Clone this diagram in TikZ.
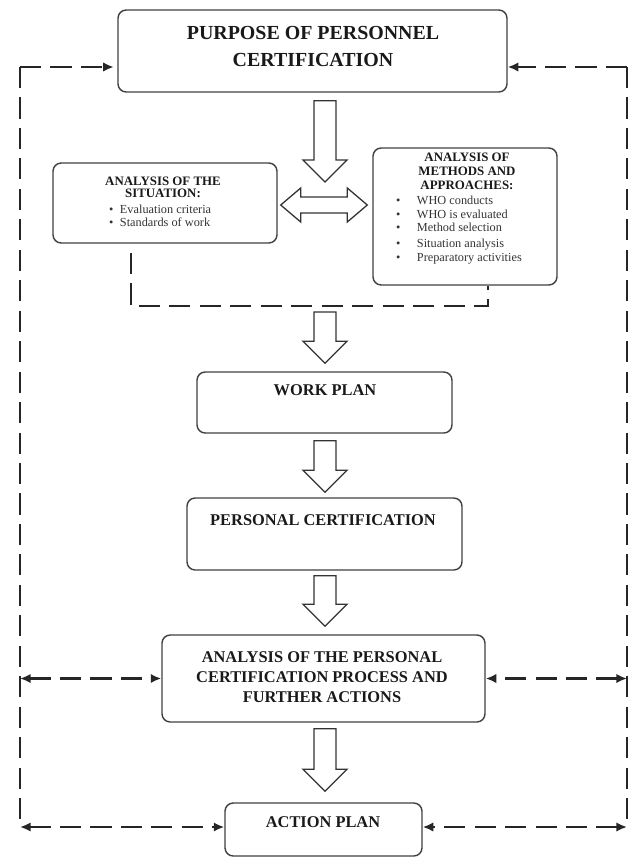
\documentclass[tikz,border=0pt]{standalone}
\usepackage{fontspec}
\setmainfont{Liberation Serif}
\usetikzlibrary{fit,calc,arrows.meta}
\tikzset{
  box/.style={draw=black!75, line width=1.2pt, rounded corners=7pt, inner sep=0pt},
  head/.style={font=\fontsize{14}{17}\selectfont\bfseries, text=black!90, align=center, inner sep=0pt},
  smallhead/.style={font=\fontsize{11}{10}\selectfont\bfseries, text=black!90, align=center, inner sep=0pt},
  items/.style={font=\fontsize{10.5}{11.5}\selectfont, text=black!80, align=left, inner sep=0pt, anchor=west},
  blockarrow/.style={draw=black!80, line width=1.1pt, fill=white, line join=miter},
  loopline/.style={line width=1.8pt, dash pattern=on 18pt off 8pt, black!85},
  loopto/.style={-{Latex[length=9pt,width=8pt]}},
  loopboth/.style={{Latex[length=9pt,width=8pt]}-{Latex[length=9pt,width=8pt]}},
}
\newcommand{\blockdown}[2]{\draw[blockarrow] ($(#1)+(-11,0)$) -- ($(#2)+(-11,-22)$) -- ($(#2)+(-22,-22)$) -- (#2) -- ($(#2)+(22,-22)$) -- ($(#2)+(11,-22)$) -- ($(#1)+(11,0)$) -- cycle;}

\begin{document}
\begin{tikzpicture}[x=0.03cm, y=-0.03cm]
\useasboundingbox (0,0) rectangle (631,858);

% boxes
\node[box, fit={(118,10) (507,92)}] (purpose) {};
\node[box, fit={(53,163) (277,243)}] (sit) {};
\node[box, fit={(373,148) (557,285)}] (meth) {};
\node[box, fit={(197,372) (452,433)}] (work) {};
\node[box, fit={(187,498) (462,570)}] (pers) {};
\node[box, fit={(162,635) (485,722)}] (anal) {};
\node[box, fit={(225,803) (422,856)}] (action) {};

% texts
\node[head, font=\fontsize{17}{23}\selectfont\bfseries] (purposetxt) at (313,46.5) {PURPOSE OF PERSONNEL\\CERTIFICATION};
\node[smallhead] (sittxt) at (163,187.5) {ANALYSIS OF THE\\SITUATION:};
\node[items] (sitlist) at (109,216) {\textbullet\hspace{5.5pt}Evaluation criteria\\
  \textbullet\hspace{5.5pt}Standards of work};
\node[smallhead, font=\fontsize{11}{12}\selectfont\bfseries] (methtxt) at (467,171) {ANALYSIS OF\\METHODS AND\\APPROACHES:};
\node[items] (methlist) at (396,230) {\textbullet\hspace{14pt}WHO conducts\\
  \textbullet\hspace{14pt}WHO is evaluated\\
  \textbullet\hspace{14pt}Method selection\\[2pt]
  \textbullet\hspace{14pt}Situation analysis\\
  \textbullet\hspace{14pt}Preparatory activities};
\node[head] (worktxt) at (325,390) {WORK PLAN};
\node[head] (perstxt) at (323,520) {PERSONAL CERTIFICATION};
\node[head] (analtxt) at (322,677) {ANALYSIS OF THE PERSONAL\\CERTIFICATION PROCESS AND\\FURTHER ACTIONS};
\node[head] (actiontxt) at (323,822) {ACTION PLAN};

% block arrows
\coordinate (ax) at (325,0);
\path ($(purpose.south -| ax)+(0,8)$) coordinate (s1)
      (325,182) coordinate (t1)
      (325,312) coordinate (s2)
      ($(work.north -| ax)+(0,-8)$) coordinate (t2)
      ($(work.south -| ax)+(0,7)$) coordinate (s3)
      ($(pers.north -| ax)+(0,-5)$) coordinate (t3)
      ($(pers.south -| ax)+(0,5)$) coordinate (s4)
      ($(anal.north -| ax)+(0,-8)$) coordinate (t4)
      ($(anal.south -| ax)+(0,6)$) coordinate (s5)
      ($(action.north -| ax)+(0,-11)$) coordinate (t5);
\blockdown{s1}{t1}
\blockdown{s2}{t2}
\blockdown{s3}{t3}
\blockdown{s4}{t4}
\blockdown{s5}{t5}

% double arrow between the two analyses
\coordinate (dl) at ($(sit.east |- 0,205)+(3,0)$);
\coordinate (dr) at ($(meth.west |- 0,205)+(-5,0)$);
\draw[blockarrow] (dl) -- ++(20,-17) -- ++(0,9) -- ($(dr)+(-20,-8)$) -- ++(0,-9) -- (dr)
  -- ++(-20,17) -- ++(0,-9) -- ($(dl)+(20,8)$) -- ++(0,9) -- cycle;

% dashed link under the analyses
\coordinate (d1) at (131,253);
\coordinate (d2) at (488,306);
\draw[loopline] (d1) |- (d2) -- (d2 |- meth.south);

% feedback loop
\coordinate (lt) at (20,67);
\coordinate (rt) at (627,67);
\coordinate (lb) at (20,827);
\coordinate (rb) at (627,827);
\draw[loopline] (lt) -- (lb);
\draw[loopline] (rt) -- (rb);
\draw[loopline, loopto, shorten >=3pt] (lt) -- (purpose.west |- lt);
\draw[loopline, loopto] (rt) -- (purpose.east |- rt);
\draw[loopline, loopboth] (lt |- anal.west) -- (anal.west);
\draw[loopline, loopboth] (rt |- anal.east) -- (anal.east);
\draw[loopline, loopboth] (lb) -- (action.west |- lb);
\draw[loopline, loopboth] (rb) -- (action.east |- rb);
\end{tikzpicture}
\end{document}
